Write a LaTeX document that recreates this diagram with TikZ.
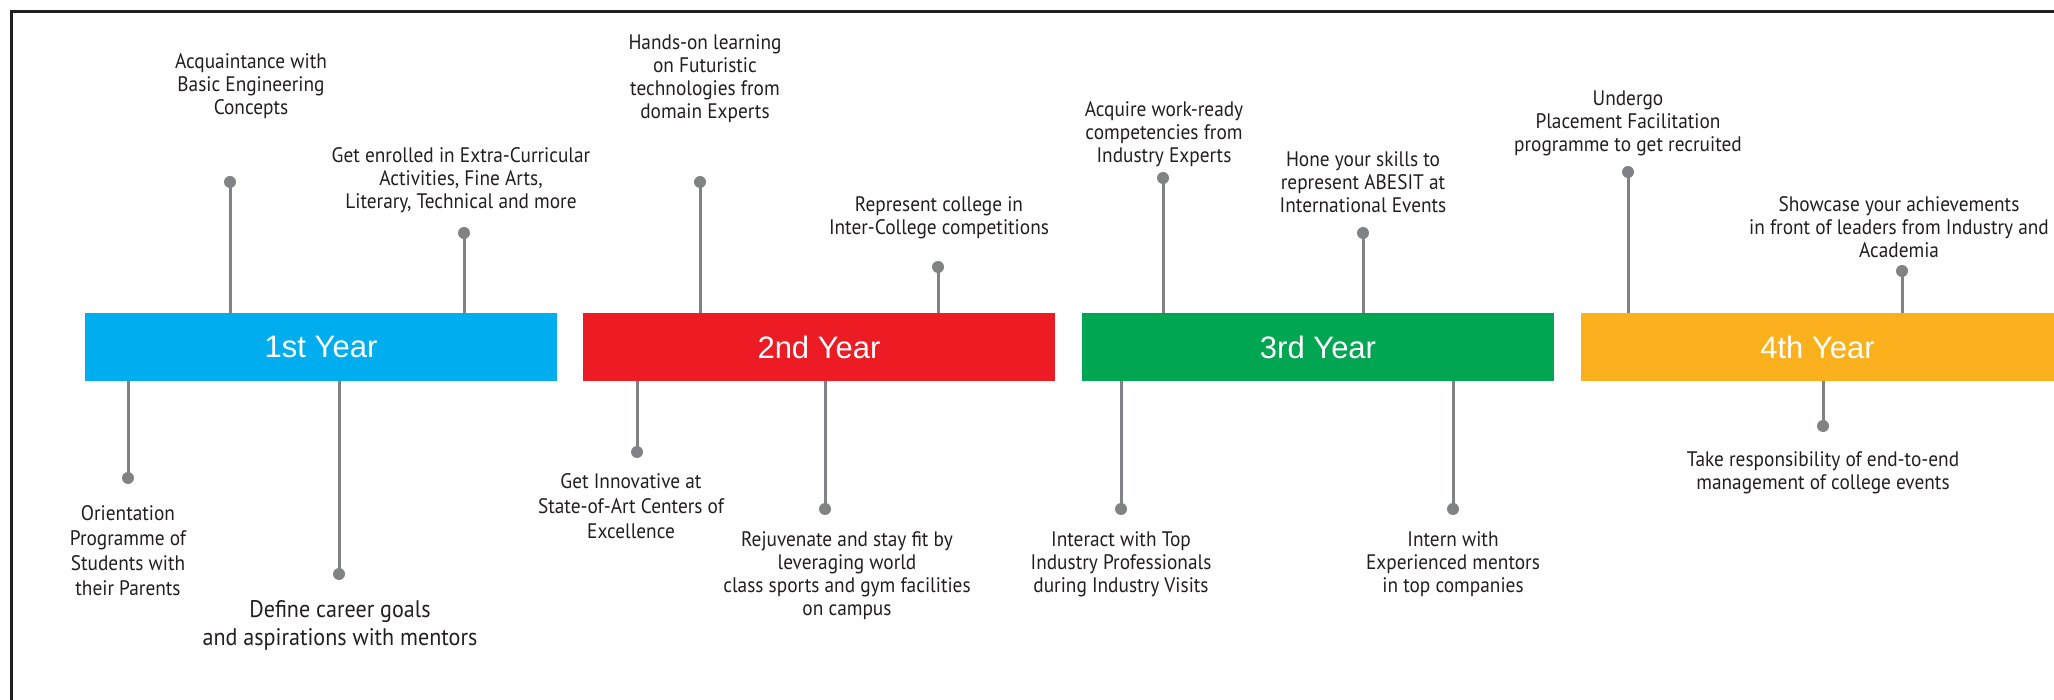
\documentclass[tikz,border=0pt]{standalone}
\usepackage{fontspec}
\setmainfont{Liberation Sans}
\newfontfamily\lblfont[FakeStretch=0.92]{PT Sans}
\newfontfamily\yearfont{Liberation Sans}
\definecolor{framecol}{HTML}{231F20}
\definecolor{cyanbox}{HTML}{00AEEF}
\definecolor{redbox}{HTML}{ED1C24}
\definecolor{greenbox}{HTML}{00A651}
\definecolor{orangebox}{HTML}{FBB01D}
\definecolor{stemgray}{HTML}{808285}
\definecolor{lbltext}{HTML}{231F20}
\begin{document}
\begin{tikzpicture}[x=1pt,y=-1pt,
  frameline/.style={draw=framecol,line width=3pt},
  yearbox/.style={rectangle,minimum width=472pt,minimum height=68pt,inner sep=0pt,text=white,font=\yearfont\fontsize{31}{31}\selectfont},
  stemline/.style={draw=stemgray,line width=3pt},
  dotnode/.style={circle,fill=stemgray,minimum size=12pt,inner sep=0pt},
  lbl/.style={align=center,text=lbltext,inner sep=0pt,anchor=base,font=\lblfont\fontsize{21}{23}\selectfont},
  lblwide/.style={lbl,font=\lblfont\fontsize{21}{25}\selectfont},
  lblbig/.style={lbl,font=\lblfont\fontsize{24}{28}\selectfont}]
\useasboundingbox (0,0) rectangle (2054,700);
\fill[white] (0,0) rectangle (2054,700);
\draw[frameline] (11,700) -- (11,12) -- (2054,12);

% year boxes
\node[yearbox,fill=cyanbox] (y1) at (321,347) {1st Year};
\node[yearbox,fill=redbox] (y2) at (819,347) {2nd Year};
\node[yearbox,fill=greenbox] (y3) at (1318,347) {3rd Year};
\node[yearbox,fill=orangebox,minimum width=473pt] (y4) at (1817.5,347) {4th Year};

% dots
\node[dotnode] (d1a) at (230,182) {};
\node[dotnode] (d1b) at (464,233) {};
\node[dotnode] (d1c) at (128,478) {};
\node[dotnode] (d1d) at (339,574) {};
\node[dotnode] (d2a) at (700,182) {};
\node[dotnode] (d2b) at (938,267) {};
\node[dotnode] (d2c) at (637,452) {};
\node[dotnode] (d2d) at (825,509) {};
\node[dotnode] (d3a) at (1163,178) {};
\node[dotnode] (d3b) at (1363,233) {};
\node[dotnode] (d3c) at (1121,509) {};
\node[dotnode] (d3d) at (1453,509) {};
\node[dotnode] (d4a) at (1628,172) {};
\node[dotnode] (d4b) at (1902,271) {};
\node[dotnode] (d4c) at (1823,426) {};

% stems
\draw[stemline] (d1a.center) -- (d1a.center |- y1.north);
\draw[stemline] (d1b.center) -- (d1b.center |- y1.north);
\draw[stemline] (d1c.center) -- (d1c.center |- y1.south);
\draw[stemline] (d1d.center) -- (d1d.center |- y1.south);
\draw[stemline] (d2a.center) -- (d2a.center |- y2.north);
\draw[stemline] (d2b.center) -- (d2b.center |- y2.north);
\draw[stemline] (d2c.center) -- (d2c.center |- y2.south);
\draw[stemline] (d2d.center) -- (d2d.center |- y2.south);
\draw[stemline] (d3a.center) -- (d3a.center |- y3.north);
\draw[stemline] (d3b.center) -- (d3b.center |- y3.north);
\draw[stemline] (d3c.center) -- (d3c.center |- y3.south);
\draw[stemline] (d3d.center) -- (d3d.center |- y3.south);
\draw[stemline] (d4a.center) -- (d4a.center |- y4.north);
\draw[stemline] (d4b.center) -- (d4b.center |- y4.north);
\draw[stemline] (d4c.center) -- (d4c.center |- y4.south);

% labels (anchor = baseline of last line)
\node[lbl] (t1a) at (251,115) {Acquaintance with\\Basic Engineering\\Concepts};
\node[lbl] (t1b) at (461,209) {Get enrolled in Extra-Curricular\\Activities, Fine Arts,\\Literary, Technical and more};
\node[lblwide] (t1c) at (128,595) {Orientation\\Programme of\\Students with\\their Parents};
\node[lblbig] (t1d) at (340,645) {Define career goals\\and aspirations with mentors};
\node[lbl] (t2a) at (705,119) {Hands-on learning\\on Futuristic\\technologies from\\domain Experts};
\node[lbl] (t2b) at (939,235) {Represent college in\\Inter-College competitions};
\node[lblwide] (t2c) at (631,538) {Get Innovative at\\State-of-Art Centers of\\Excellence};
\node[lbl] (t2d) at (847,615) {Rejuvenate and stay fit by\\leveraging world\\class sports and gym facilities\\on campus};
\node[lbl] (t3a) at (1164,163) {Acquire work-ready\\competencies from\\Industry Experts};
\node[lbl] (t3b) at (1363,213) {Hone your skills to\\represent ABESIT at\\International Events};
\node[lbl] (t3c) at (1121,592) {Interact with Top\\Industry Professionals\\during Industry Visits};
\node[lbl] (t3d) at (1453,592) {Intern with\\Experienced mentors\\in top companies};
\node[lbl] (t4a) at (1628,152) {Undergo\\Placement Facilitation\\programme to get recruited};
\node[lbl] (t4b) at (1899,258) {Showcase your achievements\\in front of leaders from Industry and\\Academia};
\node[lbl] (t4c) at (1823,489) {Take responsibility of end-to-end\\management of college events};
\end{tikzpicture}
\end{document}
